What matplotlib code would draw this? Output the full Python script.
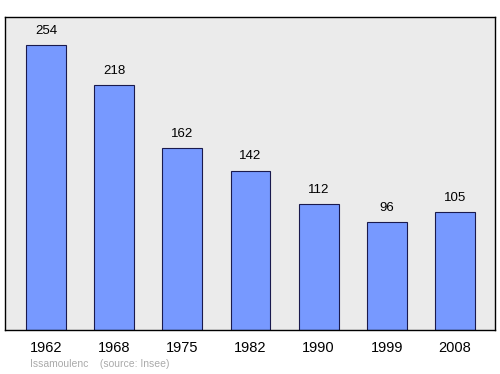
import matplotlib
matplotlib.use("Agg")
import matplotlib.pyplot as plt

years = ["1962", "1968", "1975", "1982", "1990", "1999", "2008"]
population = [254, 218, 162, 142, 112, 96, 105]
commune = "Issamoulenc"
source = "(source: Insee)"

plt.rcParams['font.family'] = ['Liberation Sans', 'DejaVu Sans']

fig = plt.figure(figsize=(5, 3.74), dpi=100)
ax = fig.add_axes([0.01, 0.1176, 0.98, 0.8369])
ax.set_facecolor('#ebebeb')

x = range(len(years))
ax.bar(x, population, width=0.586, color='#7799ff', edgecolor='#1a1a4d', linewidth=0.8)
for i, v in zip(x, population):
    ax.annotate(str(v), (i, v), xytext=(0, 6), textcoords='offset points',
                ha='center', va='bottom', fontsize=9.5)

ax.set_xlim(-0.601, 6.587)
ax.set_ylim(0, 279)
ax.set_yticks([])
ax.set_xticks(list(x))
ax.set_xticklabels(years, fontsize=10.5)
ax.tick_params(axis='x', length=0, pad=8)
for s in ax.spines.values():
    s.set_color('black')
    s.set_linewidth(1)

fig.text(0.06, 0.014, commune + "    " + source, fontsize=7.5, color='#aaaaaa', ha='left', va='bottom')

fig.savefig("out.png", dpi=100)
